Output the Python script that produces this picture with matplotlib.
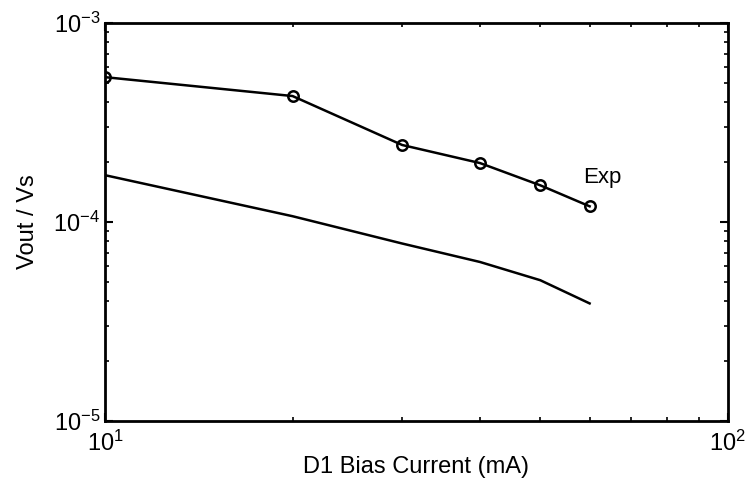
import matplotlib
matplotlib.use("Agg")
import matplotlib.pyplot as plt
from matplotlib.ticker import LogLocator, NullFormatter

plt.rcParams["font.family"] = ["Liberation Sans", "DejaVu Sans"]
plt.rcParams["mathtext.fontset"] = "custom"
plt.rcParams["mathtext.rm"] = "Liberation Sans"
plt.rcParams["mathtext.it"] = "Liberation Sans:italic"
plt.rcParams["mathtext.bf"] = "Liberation Sans:bold"

# bias current (mA)
exp_current = [10, 20, 30, 40, 50, 60]
exp_ratio = [5.35e-4, 4.3e-4, 2.44e-4, 1.98e-4, 1.53e-4, 1.2e-4]

sim_current = [10, 20, 30, 40, 50, 60]
sim_ratio = [1.72e-4, 1.07e-4, 7.8e-5, 6.3e-5, 5.1e-5, 3.9e-5]

fig = plt.figure(figsize=(7.51, 4.82), dpi=100)
ax = fig.add_axes([0.14, 0.1266, 0.829, 0.8254])

ax.plot(exp_current, exp_ratio, color="black", lw=1.8, marker="o",
        markersize=7.5, markerfacecolor="none", markeredgewidth=1.8)
ax.plot(sim_current, sim_ratio, color="black", lw=1.8)

ax.set_xscale("log")
ax.set_yscale("log")
ax.set_xlim(10, 100)
ax.set_ylim(1e-5, 1e-3)

ax.text(58.5, 1.57e-4, "Exp", fontsize=16, va="baseline")

ax.set_xlabel("D1 Bias Current (mA)", fontsize=17, labelpad=0)
ax.set_ylabel("Vout / Vs", fontsize=17, labelpad=10)

ax.xaxis.set_minor_locator(LogLocator(base=10, subs=range(2, 10)))
ax.yaxis.set_minor_locator(LogLocator(base=10, subs=range(2, 10)))
ax.xaxis.set_minor_formatter(NullFormatter())
ax.yaxis.set_minor_formatter(NullFormatter())
ax.tick_params(which="both", direction="in", top=True, right=True,
               labelsize=17)
ax.tick_params(which="major", length=6, width=1.5)
ax.tick_params(which="minor", length=3, width=1.2)
ax.tick_params(axis="x", which="major", pad=7)

for spine in ax.spines.values():
    spine.set_linewidth(2)

plt.savefig("out.png", dpi=100)
plt.close()
